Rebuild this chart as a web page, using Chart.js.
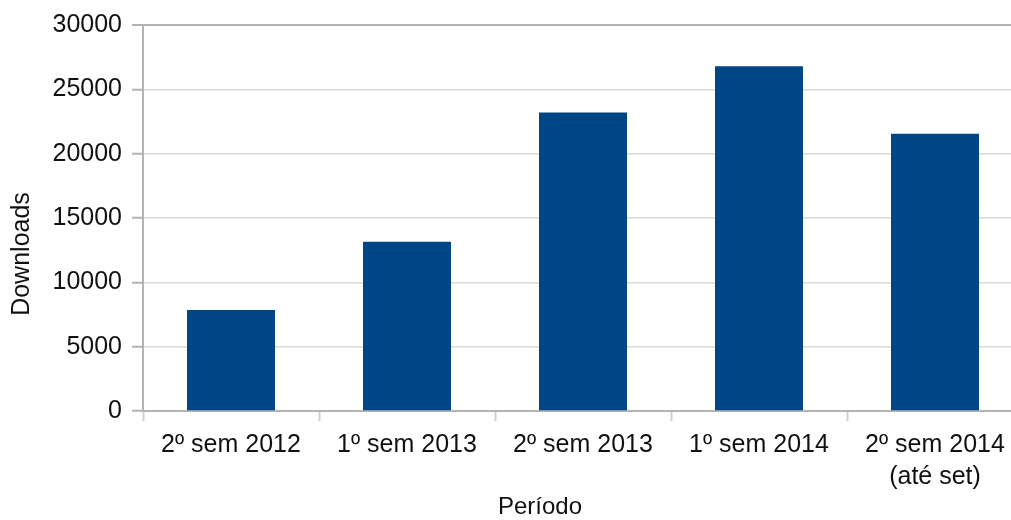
<!DOCTYPE html>
<html>
<head>
<meta charset="utf-8">
<script src="https://cdn.jsdelivr.net/npm/chart.js@4"></script>
<style>
  html, body { margin: 0; padding: 0; background: #ffffff; overflow: hidden; }
  #wrap { position: relative; width: 1033px; height: 520px; }
</style>
</head>
<body>
<div id="wrap"><canvas id="chart"></canvas></div>
<script>
// Semester labels and download counts
const periods = [
  '2º sem 2012',
  '1º sem 2013',
  '2º sem 2013',
  '1º sem 2014',
  ['2º sem 2014', '(até set)']
];
const downloads = [7850, 13150, 23200, 26800, 21550];

const yMin = 0;
const yMax = 30000;
const yStep = 5000;

const yTitle = 'Downloads';
const xTitle = 'Período';

const FONT = '"Liberation Sans", Arial, sans-serif';
const AXIS_GRAY = '#b3b3b3';
const GRID_GRAY = '#dadada';
const TEXT = '#111111';

// Axis titles placed freely on the canvas
const axisTitles = {
  id: 'axisTitles',
  afterDraw(chart) {
    const ctx = chart.ctx;
    ctx.save();
    ctx.fillStyle = TEXT;
    ctx.textAlign = 'center';
    ctx.textBaseline = 'middle';
    ctx.font = '24px ' + FONT;
    ctx.fillText(xTitle, 540, 507);
    ctx.font = '25px ' + FONT;
    ctx.translate(22, 254);
    ctx.rotate(-Math.PI / 2);
    ctx.fillText(yTitle, 0, 0);
    ctx.restore();
  }
};

new Chart(document.getElementById('chart'), {
  type: 'bar',
  data: {
    labels: periods,
    datasets: [{
      label: yTitle,
      data: downloads,
      backgroundColor: '#004586',
      borderWidth: 0,
      categoryPercentage: 1.0,
      barPercentage: 0.5
    }]
  },
  options: {
    responsive: true,
    maintainAspectRatio: false,
    animation: false,
    layout: { padding: { top: 23, right: 10, left: 0, bottom: 0 } },
    plugins: {
      legend: { display: false },
      tooltip: { enabled: false }
    },
    scales: {
      x: {
        grid: {
          display: true,
          drawOnChartArea: false,
          drawTicks: true,
          tickLength: 10,
          tickColor: '#d0d0d0',
          tickWidth: 2,
          offset: true
        },
        border: { display: true, color: AXIS_GRAY, width: 2 },
        ticks: {
          color: TEXT,
          padding: 8,
          maxRotation: 0,
          autoSkip: false,
          font: { family: FONT, size: 25, lineHeight: 1.28 }
        },
        afterFit(scale) { scale.height = 109; }
      },
      y: {
        min: yMin,
        max: yMax,
        grid: {
          color: (c) => (c.tick && c.tick.value === yMax) ? AXIS_GRAY : GRID_GRAY,
          lineWidth: (c) => (c.tick && c.tick.value === yMax) ? 2 : 1.5,
          drawTicks: true,
          tickLength: 11,
          tickColor: AXIS_GRAY,
          tickWidth: 2
        },
        border: { display: true, color: AXIS_GRAY, width: 2 },
        ticks: {
          stepSize: yStep,
          color: TEXT,
          padding: 10,
          font: { family: FONT, size: 25 },
          callback: (v) => String(v)
        },
        afterFit(scale) { scale.width = 143; }
      }
    }
  },
  plugins: [axisTitles]
});
</script>
</body>
</html>
